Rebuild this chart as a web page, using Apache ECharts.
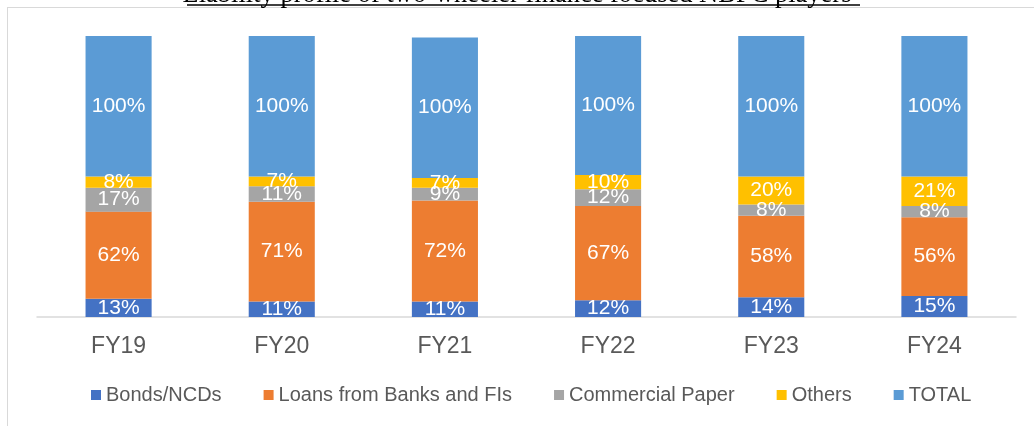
<!DOCTYPE html>
<html>
<head>
<meta charset="utf-8">
<script src="https://cdn.jsdelivr.net/npm/echarts@6/dist/echarts.min.js"></script>
<style>
  html, body { margin: 0; padding: 0; background: #fff; }
  #chart { width: 1034px; height: 426px; }
</style>
</head>
<body>
<div id="chart"></div>
<script>
// Fiscal years on the x axis
const years = ['FY19', 'FY20', 'FY21', 'FY22', 'FY23', 'FY24'];

// Share of total liabilities by source (%)
const bondsNcds = [13, 11, 11, 12, 14, 15];
const bankLoans = [62, 71, 72, 67, 58, 56];
const commercialPaper = [17, 11, 9, 12, 8, 8];
const others = [8, 7, 7, 10, 20, 21];
const total = [100, 100, 100, 100, 100, 100];

const seriesNames = ['Bonds/NCDs', 'Loans from Banks and FIs', 'Commercial Paper', 'Others', 'TOTAL'];
const seriesValues = [bondsNcds, bankLoans, commercialPaper, others, total];
const seriesColors = ['#4472C4', '#ED7D31', '#A5A5A5', '#FFC000', '#5B9BD5'];

const chart = echarts.init(document.getElementById('chart'));

const series = seriesNames.map((name, i) => ({
  name: name,
  type: 'bar',
  stack: 'all',
  barWidth: '40.5%',
  data: seriesValues[i],
  itemStyle: { color: seriesColors[i] },
  label: {
    show: true,
    position: 'inside',
    formatter: p => p.value + '%',
    color: '#fff',
    fontFamily: 'Liberation Sans, Arial, sans-serif',
    fontSize: 21
  }
}));

chart.setOption({
  animation: false,
  grid: { left: 37, right: 18, top: 36, bottom: 109, containLabel: false },
  xAxis: {
    type: 'category',
    data: years,
    axisLine: { lineStyle: { color: '#D9D9D9', width: 1.5 } },
    axisTick: { show: false },
    axisLabel: {
      color: '#595959',
      fontFamily: 'Liberation Sans, Arial, sans-serif',
      fontSize: 23,
      margin: 18
    }
  },
  yAxis: {
    type: 'value',
    min: 0,
    max: 200,
    show: false
  },
  legend: {
    data: seriesNames,
    bottom: 21,
    left: 91,
    padding: 0,
    itemWidth: 10,
    itemHeight: 10,
    itemGap: 42,
    icon: 'rect',
    textStyle: {
      color: '#595959',
      fontFamily: 'Liberation Sans, Arial, sans-serif',
      fontSize: 20
    }
  },
  graphic: [
    {
      type: 'line',
      shape: { x1: 7, y1: 7.5, x2: 1034, y2: 7.5 },
      style: { stroke: '#D9D9D9', lineWidth: 1 },
      silent: true
    },
    {
      type: 'line',
      shape: { x1: 7.5, y1: 7, x2: 7.5, y2: 426 },
      style: { stroke: '#D9D9D9', lineWidth: 1 },
      silent: true
    },
    {
      type: 'text',
      left: 'center',
      top: -18,
      style: {
        text: 'Liability profile of two-wheeler finance focused NBFC players',
        fill: '#000',
        fontFamily: 'Liberation Serif, Times New Roman, serif',
        fontSize: 26.5
      },
      silent: true
    },
    {
      type: 'line',
      shape: { x1: 187, y1: 5, x2: 860, y2: 5 },
      style: { stroke: '#000', lineWidth: 1.5 },
      silent: true
    }
  ],
  series: series
});
</script>
</body>
</html>
